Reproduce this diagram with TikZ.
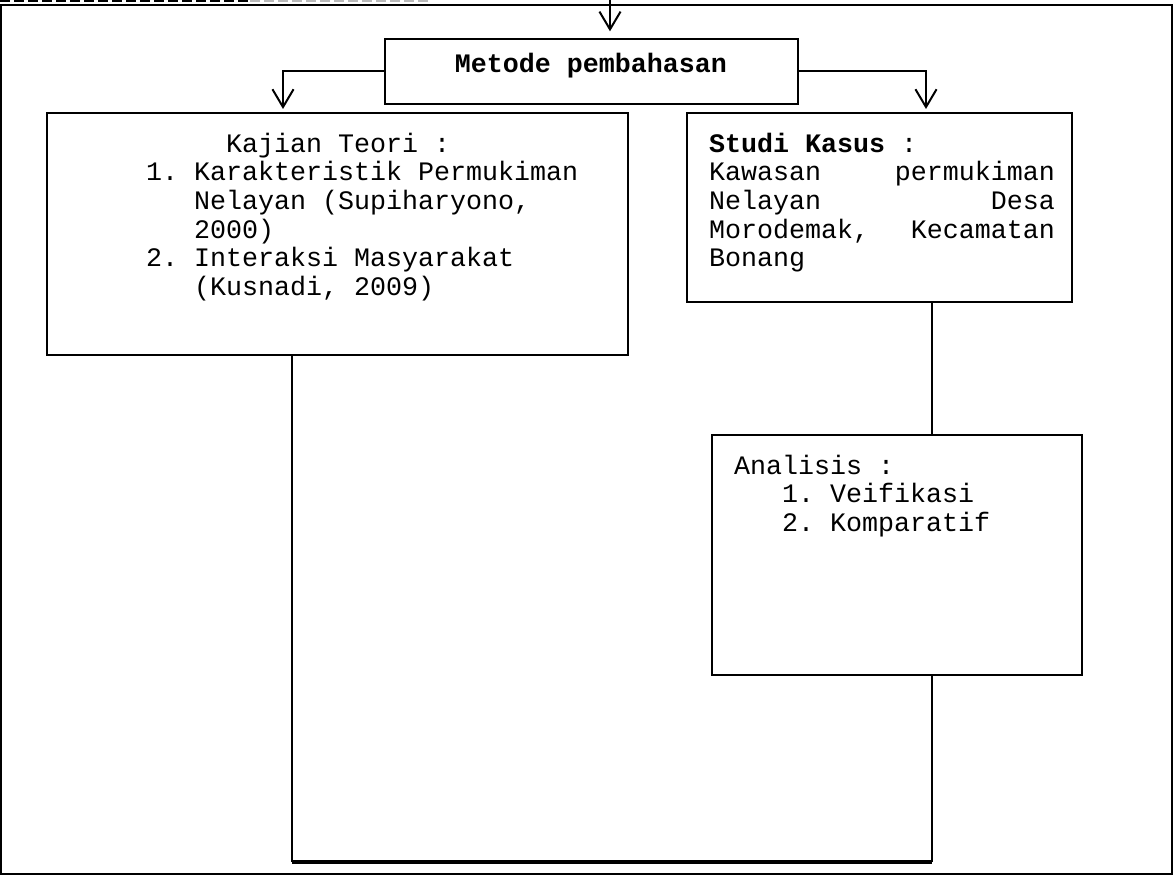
\documentclass[tikz,border=0pt]{standalone}
\usepackage{fontspec}
\setmonofont{Liberation Mono}
\usetikzlibrary{arrows.meta,positioning}

\tikzset{
  box/.style={draw, line width=0.9pt, inner sep=0pt},
  txt/.style={font=\ttfamily\fontsize{12}{12.9}\selectfont, inner sep=0pt, align=left},
  arr/.style={-{Straight Barb[length=8pt,width=9.5pt,line width=0.9pt]}, line width=0.9pt},
}
\newcommand{\jline}[2]{\makebox[155.7pt][l]{#1\hfill #2}}

\begin{document}
\begin{tikzpicture}[x=0.45pt, y=-0.45pt, line width=0.9pt]
\useasboundingbox (0,0) rectangle (1176,876);
% outer frame and cut dashes on top
\draw (1,5) rectangle (1172,874);
\draw[line width=1.2pt, dash pattern=on 4.5pt off 1.8pt] (0,1) -- (250,1);
\draw[line width=1.2pt, gray!55, dash pattern=on 4.5pt off 1.8pt] (250,1) -- (430,1);

% boxes
\node[box, minimum width=185.85pt, minimum height=29.25pt] (metode) at (591,71.5) {};
\node[txt, font=\ttfamily\bfseries\fontsize{12}{12.9}\selectfont, anchor=base] (metodetxt) at (591,73) {Metode pembahasan};

\node[box, minimum width=261.45pt, minimum height=109pt] (kajian) at (337.5,234) {};
\node[txt, anchor=north west] (kajiantxt) at (145,132) {%
\hspace*{36pt}Kajian Teori :\\
1. Karakteristik Permukiman\\
\hspace*{21.6pt}Nelayan (Supiharyono,\\
\hspace*{21.6pt}2000)\\
2. Interaksi Masyarakat\\
\hspace*{21.6pt}(Kusnadi, 2009)};

\node[box, minimum width=173.25pt, minimum height=85.05pt] (studi) at (879.5,207.5) {};
\node[txt, anchor=north west] (studitxt) at (708,132) {%
\textbf{Studi Kasus} :\\
\jline{Kawasan}{permukiman}\\
\jline{Nelayan}{Desa}\\
\jline{Morodemak,}{Kecamatan}\\
Bonang};

\node[box, minimum width=166.5pt, minimum height=108pt] (analisis) at (897,555) {};
\node[txt, anchor=north west] (analisistxt) at (733,454) {%
Analisis :\\
\hspace*{21.6pt}1. Veifikasi\\
\hspace*{21.6pt}2. Komparatif};

% connectors
\coordinate (src) at (610,0);
\coordinate (lft) at (283,109);
\coordinate (rgt) at (926,109);
\coordinate (jw) at (292,862);
\coordinate (jn) at (932,862);

\draw[arr] (src) -- ([yshift=3pt]src |- metode.north);
\draw[arr] (metode.west) -| (lft);
\draw[arr] (metode.east) -| (rgt);
\draw (studi.south -| jn) -- (analisis.north -| jn);
\draw (analisis.south -| jn) -- (jn);
\draw (kajian.south -| jw) -- (jw);
\draw[line width=1.4pt] (jw) -- (jn);
\end{tikzpicture}
\end{document}
